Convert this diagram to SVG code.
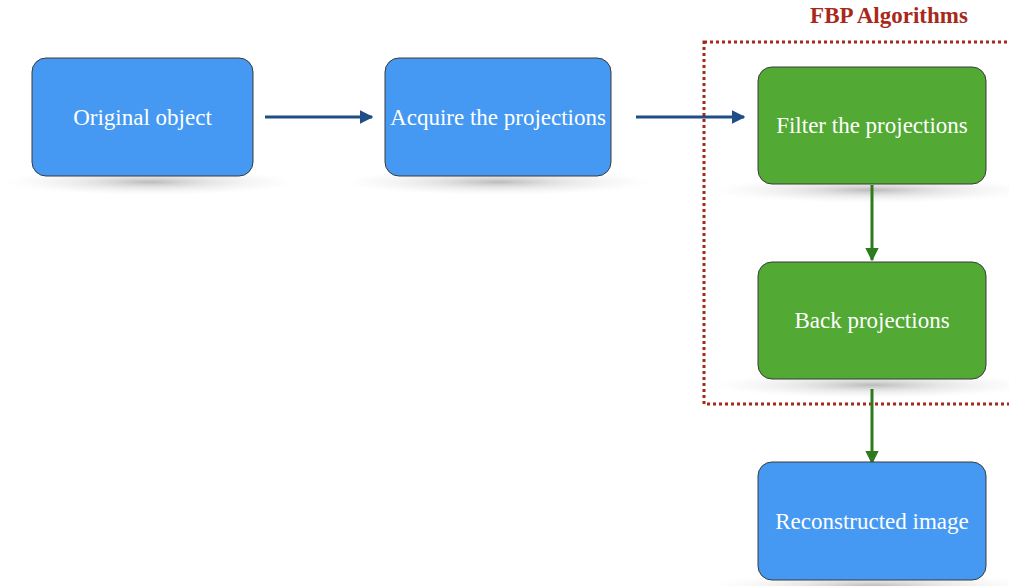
<svg xmlns="http://www.w3.org/2000/svg" width="1009" height="586" viewBox="0 0 1009 586">
<defs>
<radialGradient id="sh" cx="0.5" cy="0.5" r="0.5">
<stop offset="0" stop-color="#aaa" stop-opacity="0.8"/>
<stop offset="0.45" stop-color="#ccc" stop-opacity="0.45"/>
<stop offset="1" stop-color="#e5e5e5" stop-opacity="0"/>
</radialGradient>
<marker id="ab" viewBox="0 0 10 10" refX="9" refY="5" markerWidth="4.5" markerHeight="4.5" orient="auto" markerUnits="strokeWidth"><path d="M0,0 L10,5 L0,10 z" fill="#1f4e87"/></marker>
<marker id="ag" viewBox="0 0 10 10" refX="9" refY="5" markerWidth="4.5" markerHeight="4.5" orient="auto" markerUnits="strokeWidth"><path d="M0,0 L10,5 L0,10 z" fill="#2e7a1e"/></marker>
</defs>
<style>
.box{stroke:#3a3a3a;stroke-width:1}
.blue{fill:#4599f2}
.green{fill:#52a934}
.lbl{font-family:"Liberation Serif","Times New Roman",serif;font-size:23px;fill:#ffffff;text-anchor:middle}
.cb{stroke:#1f4e87;stroke-width:3;fill:none}
.cg{stroke:#2e7a1e;stroke-width:3;fill:none}
.shadow{fill:url(#sh)}
</style>
<rect width="1009" height="586" fill="#ffffff"/>
<g id="shadows">
<ellipse class="shadow" cx="150" cy="182" rx="145" ry="13"/>
<ellipse class="shadow" cx="498" cy="182" rx="155" ry="13"/>
<ellipse class="shadow" cx="872" cy="190" rx="160" ry="13"/>
<ellipse class="shadow" cx="872" cy="385" rx="160" ry="13"/>
<ellipse class="shadow" cx="872" cy="586" rx="160" ry="13"/>
</g>
<g id="fbp-group">
<rect x="704" y="42" width="320" height="362" fill="none" stroke="#a8291b" stroke-width="3" stroke-dasharray="3,3"/>
<text x="889" y="23" font-family="Liberation Serif,Times New Roman,serif" font-size="23" font-weight="bold" fill="#a8291b" text-anchor="middle">FBP Algorithms</text>
</g>
<g id="connectors">
<line class="cb" x1="265" y1="117" x2="372" y2="117" marker-end="url(#ab)"/>
<line class="cb" x1="636" y1="117" x2="744" y2="117" marker-end="url(#ab)"/>
<line class="cg" x1="872" y1="185" x2="872" y2="260" marker-end="url(#ag)"/>
<line class="cg" x1="872" y1="389" x2="872" y2="463" marker-end="url(#ag)"/>
</g>
<g id="original">
<rect class="box blue" x="32" y="58" width="221" height="118" rx="14"/>
<text class="lbl" x="142.5" y="125">Original object</text>
</g>
<g id="acquire">
<rect class="box blue" x="385" y="58" width="226" height="118" rx="14"/>
<text class="lbl" x="498" y="125">Acquire the projections</text>
</g>
<g id="filter">
<rect class="box green" x="758" y="67" width="228" height="117" rx="14"/>
<text class="lbl" x="872" y="133">Filter the projections</text>
</g>
<g id="back">
<rect class="box green" x="758" y="262" width="228" height="117" rx="14"/>
<text class="lbl" x="872" y="328">Back projections</text>
</g>
<g id="reconstructed">
<rect class="box blue" x="758" y="462" width="228" height="118" rx="14"/>
<text class="lbl" x="872" y="529">Reconstructed image</text>
</g>
</svg>
